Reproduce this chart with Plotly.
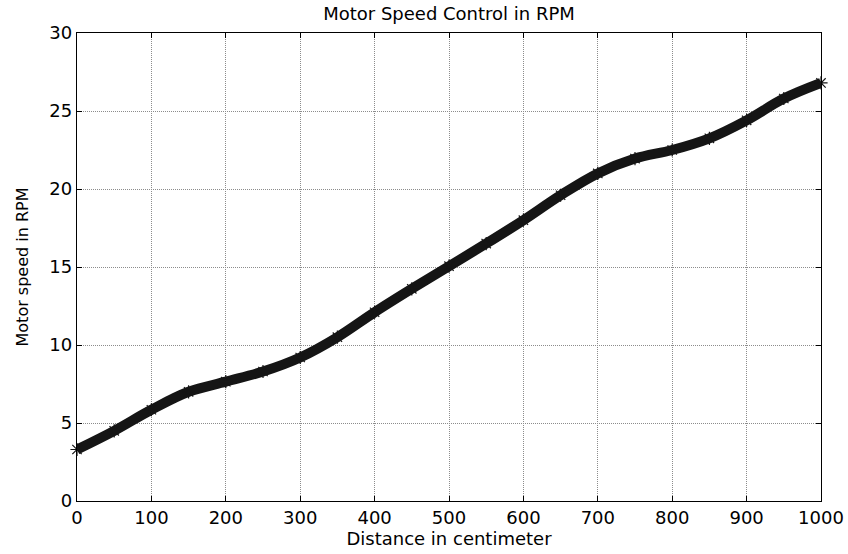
import plotly.graph_objects as go

distance_cm = [0, 50, 100, 150, 200, 250, 300, 350, 400, 450, 500,
               550, 600, 650, 700, 750, 800, 850, 900, 950, 1000]
speed_rpm = [3.3, 4.5, 5.85, 7.0, 7.65, 8.3, 9.2, 10.5, 12.1, 13.6, 15.05,
             16.5, 18.0, 19.6, 21.0, 21.95, 22.5, 23.25, 24.4, 25.8, 26.8]
x_ticks = [0, 100, 200, 300, 400, 500, 600, 700, 800, 900, 1000]
y_ticks = [0, 5, 10, 15, 20, 25, 30]

FONT = "DejaVu Sans"

fig = go.Figure()
fig.add_trace(go.Scatter(
    x=distance_cm, y=speed_rpm, mode="lines+markers",
    line=dict(color="#151515", width=10, shape="spline", smoothing=1.0),
    marker=dict(symbol="asterisk-open", size=11, color="#151515",
                line=dict(color="#151515", width=1.2)),
    cliponaxis=False, showlegend=False,
))

axis_common = dict(
    showline=True, linecolor="black", linewidth=1.3, mirror="ticks",
    ticks="inside", ticklen=5, tickcolor="black", tickwidth=1,
    showgrid=True, gridcolor="#8c8c8c", gridwidth=1, griddash="1px,1px",
    zeroline=False, automargin=False,
    tickfont=dict(family=FONT, size=18, color="black"),
)

fig.update_xaxes(range=[0, 1000], tickvals=x_ticks,
                 title=dict(text="Distance in centimeter",
                            font=dict(family=FONT, size=18, color="black"),
                            standoff=2),
                 **axis_common)
fig.update_yaxes(range=[0, 30], tickvals=y_ticks,
                 title=dict(text="Motor speed in RPM",
                            font=dict(family=FONT, size=16, color="black"),
                            standoff=16),
                 **axis_common)

fig.update_layout(
    width=848, height=554,
    margin=dict(l=77, r=27, t=33, b=53),
    paper_bgcolor="white", plot_bgcolor="white",
    title=dict(text="Motor Speed Control in RPM", x=0.5, xref="paper",
               y=1 - 14 / 554, yref="container", yanchor="middle",
               font=dict(family=FONT, size=18, color="black")),
)

fig.write_html("out.html")
